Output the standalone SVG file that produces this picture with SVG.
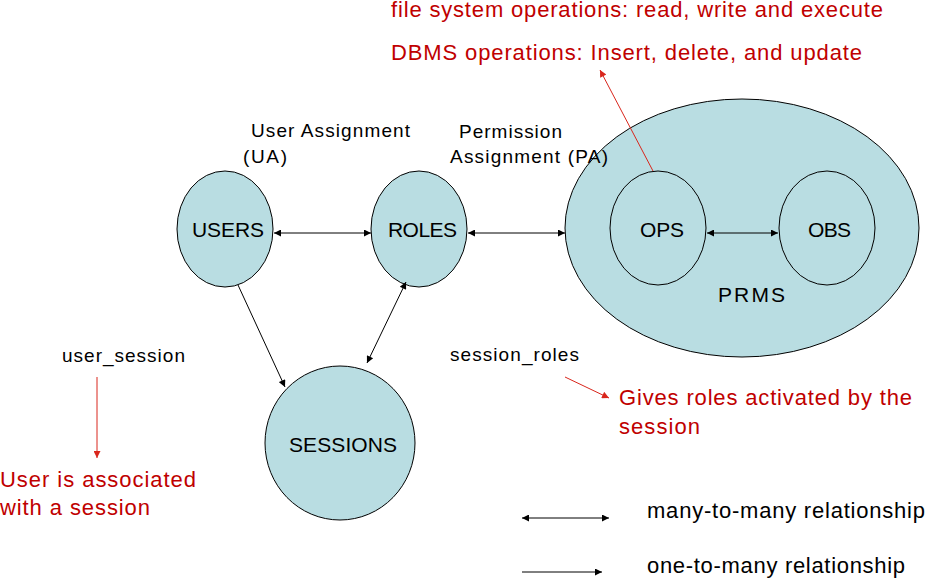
<svg xmlns="http://www.w3.org/2000/svg" width="928" height="582" viewBox="0 0 928 582">
<style>
.n{fill:#b9dde2;stroke:#000;stroke-width:1}
.t{font-family:"Liberation Sans",Arial,sans-serif;fill:#000}
.r{font-family:"Liberation Sans",Arial,sans-serif;fill:#c00000;font-size:22px}
.c{stroke:#000;stroke-width:1;fill:none}
.rc{stroke:#d9261c;stroke-width:1;fill:none}
</style>
<defs>
<marker id="ah" viewBox="0 0 10 10" refX="10" refY="5" markerWidth="9" markerHeight="7" markerUnits="userSpaceOnUse" orient="auto-start-reverse"><path d="M0,0L10,5L0,10z" fill="#000"/></marker>
<marker id="rh" viewBox="0 0 10 10" refX="10" refY="5" markerWidth="9" markerHeight="7" markerUnits="userSpaceOnUse" orient="auto"><path d="M0,0L10,5L0,10z" fill="#d9261c"/></marker>
</defs>
<rect width="928" height="582" fill="#fff"/>
<g id="prms">
<ellipse class="n" cx="742" cy="228" rx="177" ry="129"/>
<text class="t" x="718" y="302" font-size="21" textLength="67" lengthAdjust="spacing">PRMS</text>
</g>
<g id="users">
<ellipse class="n" cx="225" cy="229" rx="48" ry="58"/>
<text class="t" x="192" y="237" font-size="21" textLength="72" lengthAdjust="spacing">USERS</text>
</g>
<g id="roles">
<ellipse class="n" cx="419" cy="229" rx="48" ry="58"/>
<text class="t" x="388" y="237" font-size="21" textLength="69" lengthAdjust="spacing">ROLES</text>
</g>
<g id="ops">
<ellipse class="n" cx="658" cy="228" rx="48" ry="57"/>
<text class="t" x="640" y="237" font-size="21" textLength="44" lengthAdjust="spacing">OPS</text>
</g>
<g id="obs">
<ellipse class="n" cx="827" cy="228" rx="48" ry="57"/>
<text class="t" x="808" y="237" font-size="21" textLength="43" lengthAdjust="spacing">OBS</text>
</g>
<g id="sessions">
<ellipse class="n" cx="340" cy="443" rx="75" ry="77"/>
<text class="t" x="289" y="452" font-size="21" textLength="108" lengthAdjust="spacing">SESSIONS</text>
</g>
<g id="connectors">
<line class="c" x1="274" y1="233" x2="371" y2="233" marker-start="url(#ah)" marker-end="url(#ah)"/>
<line class="c" x1="468" y1="233" x2="565" y2="233" marker-start="url(#ah)" marker-end="url(#ah)"/>
<line class="c" x1="707" y1="233" x2="778" y2="233" marker-start="url(#ah)" marker-end="url(#ah)"/>
<line class="c" x1="238" y1="285" x2="285" y2="387" marker-end="url(#ah)"/>
<line class="c" x1="406" y1="282" x2="367" y2="363" marker-start="url(#ah)" marker-end="url(#ah)"/>
<line class="rc" x1="653" y1="171" x2="600" y2="70" marker-end="url(#rh)"/>
<line class="rc" x1="97" y1="377" x2="97" y2="458" marker-end="url(#rh)"/>
<line class="rc" x1="565" y1="377" x2="609" y2="398" marker-end="url(#rh)"/>
<line class="c" x1="522" y1="518" x2="609" y2="518" marker-start="url(#ah)" marker-end="url(#ah)"/>
<line class="c" x1="522" y1="572" x2="602" y2="572" marker-end="url(#ah)"/>
</g>
<g id="labels">
<text class="r" x="391" y="17" textLength="492" lengthAdjust="spacing">file system operations: read, write and execute</text>
<text class="r" x="391" y="60" textLength="471" lengthAdjust="spacing">DBMS operations: Insert, delete, and update</text>
<text class="t" x="251" y="137" font-size="19" textLength="159" lengthAdjust="spacing">User Assignment</text>
<text class="t" x="243" y="163" font-size="19" textLength="44" lengthAdjust="spacing">(UA)</text>
<text class="t" x="459" y="138" font-size="19" textLength="103" lengthAdjust="spacing">Permission</text>
<text class="t" x="450" y="163" font-size="19" textLength="158" lengthAdjust="spacing">Assignment (PA)</text>
<text class="t" x="62" y="362" font-size="19" textLength="123" lengthAdjust="spacing">user_session</text>
<text class="t" x="450" y="361" font-size="19" textLength="129" lengthAdjust="spacing">session_roles</text>
<text class="r" x="0" y="487" textLength="196" lengthAdjust="spacing">User is associated</text>
<text class="r" x="0" y="515" textLength="150" lengthAdjust="spacing">with a session</text>
<text class="r" x="619" y="405" textLength="293" lengthAdjust="spacing">Gives roles activated by the</text>
<text class="r" x="619" y="434" textLength="81" lengthAdjust="spacing">session</text>
<text class="t" x="647" y="518" font-size="22" textLength="278" lengthAdjust="spacing">many-to-many relationship</text>
<text class="t" x="647" y="573" font-size="22" textLength="258" lengthAdjust="spacing">one-to-many relationship</text>
</g>
</svg>
